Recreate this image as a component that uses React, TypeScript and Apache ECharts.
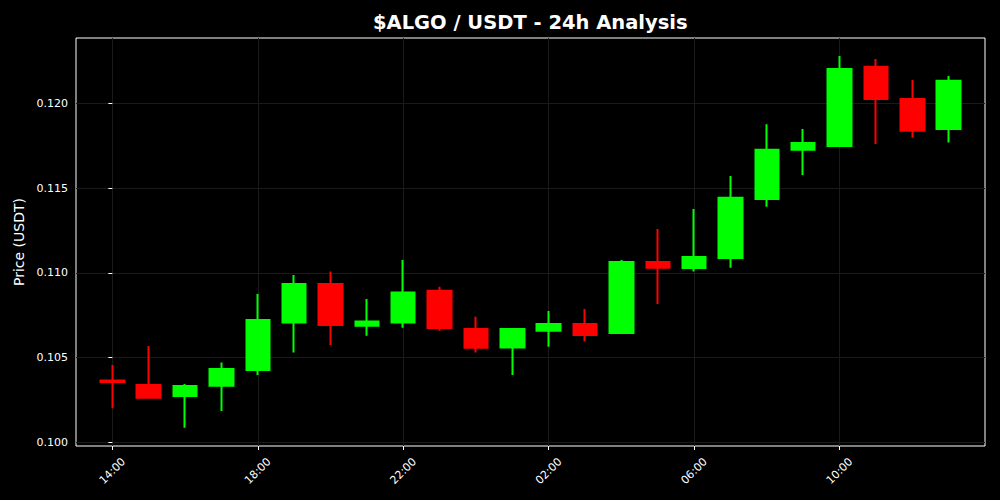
import React, { useEffect, useRef } from "react";
import * as echarts from "echarts";

const hours = [
  "14:00", "15:00", "16:00", "17:00", "18:00", "19:00", "20:00", "21:00",
  "22:00", "23:00", "00:00", "01:00", "02:00", "03:00", "04:00", "05:00",
  "06:00", "07:00", "08:00", "09:00", "10:00", "11:00", "12:00", "13:00",
];
const opens = [
  0.10365, 0.10338, 0.10273, 0.10334, 0.10427, 0.10706, 0.10934, 0.10688,
  0.10706, 0.10894, 0.10668, 0.10559, 0.10658, 0.10698, 0.10645, 0.11064,
  0.11028, 0.11087, 0.11435, 0.11726, 0.11748, 0.12216, 0.12025, 0.11848,
];
const closes = [
  0.10355, 0.10263, 0.10332, 0.10432, 0.10722, 0.10934, 0.10692, 0.10712,
  0.10883, 0.10674, 0.10558, 0.10668, 0.10698, 0.10633, 0.11064, 0.1103,
  0.11093, 0.11443, 0.11726, 0.11766, 0.12202, 0.12025, 0.11838, 0.12133,
];
const lows = [
  0.1020, 0.10263, 0.10086, 0.10185, 0.10397, 0.10529, 0.10574, 0.10629,
  0.10676, 0.10658, 0.10529, 0.10397, 0.10564, 0.10594, 0.10645, 0.10816,
  0.11007, 0.1103, 0.1139, 0.11577, 0.11748, 0.1176, 0.11797, 0.11768,
];
const highs = [
  0.10456, 0.10568, 0.10344, 0.1047, 0.10875, 0.10987, 0.11007, 0.10845,
  0.11076, 0.10918, 0.10741, 0.10673, 0.10775, 0.10786, 0.11075, 0.11258,
  0.11376, 0.11571, 0.11876, 0.11848, 0.12279, 0.12261, 0.12137, 0.12161,
];
const xTickIndices = [0, 4, 8, 12, 16, 20];
const yTicks = [0.1, 0.105, 0.11, 0.115, 0.12];

const FONT = "DejaVu Sans";

export default function App() {
  const ref = useRef<HTMLDivElement>(null);
  useEffect(() => {
    if (!ref.current) return;
    const chart = echarts.init(ref.current, undefined, { renderer: "svg" });
    const data = hours.map((_, i) => [i, opens[i], closes[i], lows[i], highs[i]]);
    chart.setOption({
      animation: false,
      backgroundColor: "#000000",
      title: {
        text: "$ALGO / USDT - 24h Analysis",
        left: 373,
        top: 12,
        padding: 0,
        textStyle: { color: "#ffffff", fontFamily: FONT, fontWeight: "bold", fontSize: 19.5 },
      },
      grid: {
        left: 76,
        right: 15,
        top: 38,
        bottom: 54,
        show: true,
        borderColor: "#ffffff",
        borderWidth: 1,
        backgroundColor: "transparent",
      },
      xAxis: {
        type: "value",
        min: -1,
        max: 24,
        axisLine: { show: false },
        axisTick: {
          show: true,
          length: 4,
          lineStyle: { color: "#ffffff" },
          customValues: xTickIndices,
        },
        axisLabel: {
          color: "#ffffff",
          fontFamily: FONT,
          fontSize: 11,
          rotate: 45,
          align: "center",
          verticalAlign: "middle",
          margin: 25,
          customValues: xTickIndices,
          formatter: (v: number) => hours[Math.round(v)] ?? "",
        },
        splitLine: { show: true, lineStyle: { color: "#1a1a1a", width: 1 } },
      },
      yAxis: {
        type: "value",
        min: 0.09978,
        max: 0.12385,
        name: "Price (USDT)",
        nameLocation: "middle",
        nameGap: 50,
        nameTextStyle: { color: "#ffffff", fontFamily: FONT, fontSize: 14 },
        axisLine: { show: false },
        axisTick: {
          show: true,
          length: 4,
          lineStyle: { color: "#ffffff" },
          customValues: yTicks,
        },
        axisLabel: {
          color: "#ffffff",
          fontFamily: FONT,
          fontSize: 11,
          margin: 8,
          customValues: yTicks,
          formatter: (v: number) => v.toFixed(3),
        },
        splitLine: { show: true, lineStyle: { color: "#1a1a1a", width: 1 } },
      },
      series: [
        {
          type: "candlestick",
          data,
          encode: { x: 0, y: [1, 2, 3, 4] },
          barWidth: 24,
          itemStyle: {
            color: "#00ff00",
            color0: "#ff0000",
            borderColor: "#00ff00",
            borderColor0: "#ff0000",
            borderWidth: 2,
          },
        },
      ],
    });
    return () => chart.dispose();
  }, []);
  return <div ref={ref} style={{ width: 1000, height: 500, position: "absolute", left: 0, top: 0 }} />;
}
